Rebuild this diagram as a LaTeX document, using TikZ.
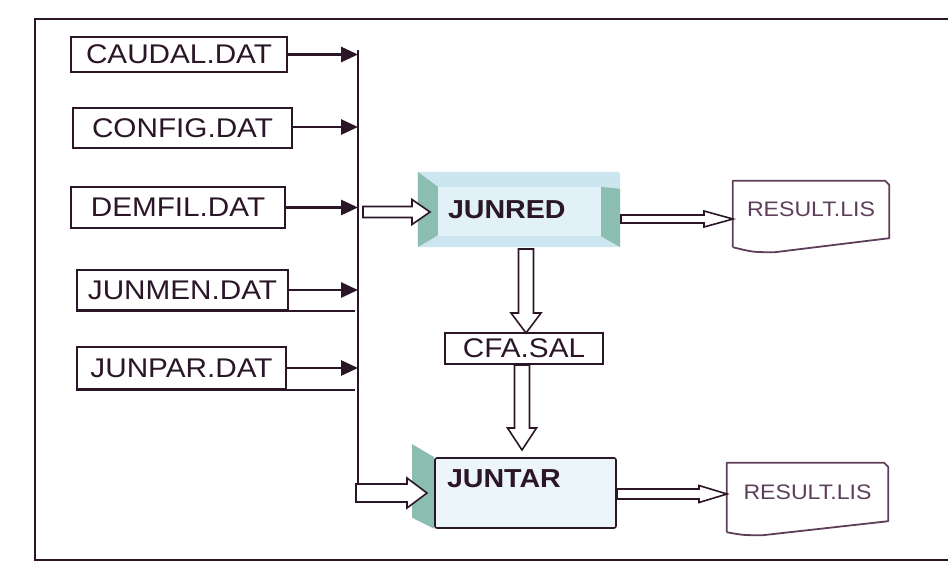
\documentclass[tikz,border=0pt]{standalone}
\usepackage{fontspec}
\setmainfont{Liberation Sans}[FakeStretch=1.1]
\usetikzlibrary{arrows.meta,calc}
\pgfdeclarelayer{bottom}
\pgfdeclarelayer{background}
\pgfsetlayers{bottom,background,main}
\definecolor{ink}{HTML}{2B1628}
\definecolor{inkl}{HTML}{5E3F5A}
\definecolor{faceblue}{HTML}{E1F1F7}
\definecolor{bevelblue}{HTML}{CBE6EE}
\definecolor{bevteal}{HTML}{8CBDB1}
\definecolor{boxblue}{HTML}{EBF5FA}
\newcommand{\hollowright}[5]{\draw[hollow] ($(#1)+(0,#3)$) -- ($(#2)+(-#5,#3)$) -- ($(#2)+(-#5,#4)$) -- (#2) -- ($(#2)+(-#5,-#4)$) -- ($(#2)+(-#5,-#3)$) -- ($(#1)+(0,-#3)$) -- cycle;}
\newcommand{\hollowdown}[5]{\draw[hollow] ($(#1)+(#3,0)$) -- ($(#2)+(#3,-#5)$) -- ($(#2)+(#4,-#5)$) -- (#2) -- ($(#2)+(-#4,-#5)$) -- ($(#2)+(-#3,-#5)$) -- ($(#1)+(-#3,0)$) -- cycle;}
\tikzset{
  filebox/.style={draw=ink, line width=1.8pt, fill=white, text=ink, inner sep=0pt,
    font=\fontsize{27}{27}\selectfont},
  inarrow/.style={draw=ink, line width=2.8pt, -{Triangle[length=17pt,width=15pt]}},
  hollow/.style={draw=ink, line width=1.6pt, fill=white, line join=miter},
  procfont/.style={font=\bfseries\fontsize{26}{26}\selectfont, text=ink},
  resbox/.style={inner sep=0pt, text=inkl, font=\fontsize{21}{21}\selectfont},
  resline/.style={draw=inkl, line width=1.8pt, line join=round}
}
\begin{document}
\begin{tikzpicture}[x=1pt,y=-1pt]
\useasboundingbox (0,0) rectangle (948,571);
\begin{pgfonlayer}{bottom}
\fill[white] (0,0) rectangle (948,571);
\end{pgfonlayer}
% outer frame (open on the right)
\draw[ink, line width=2pt] (948,19) -- (35,19) -- (35,560) -- (948,560);

% input files
\node[filebox, minimum width=216pt, minimum height=35pt] (caudal) at (179,54.5) {CAUDAL.DAT};
\node[filebox, minimum width=219pt, minimum height=40pt] (config) at (182.5,128) {CONFIG.DAT};
\node[filebox, minimum width=214pt, minimum height=41pt] (demfil) at (178,207.5) {DEMFIL.DAT};
\node[filebox, minimum width=211pt, minimum height=40pt] (junmen) at (182.5,290) {JUNMEN.DAT};
\node[filebox, minimum width=209pt, minimum height=42pt] (junpar) at (181.5,368) {JUNPAR.DAT};

% bus
\coordinate (busTop) at (358,50);
\coordinate (busBot) at (358,484);
\draw[ink, line width=2pt] (busTop) -- (busBot);

\draw[inarrow] (caudal.east) -- (caudal.east -| busTop);
\draw[inarrow] ($(config.east)+(0,-1)$) -- ($(config.east -| busTop)+(0,-1)$);
\draw[inarrow] (demfil.east) -- (demfil.east -| busTop);
\draw[inarrow] (junmen.east) -- (junmen.east -| busTop);
\draw[inarrow] (junpar.east) -- (junpar.east -| busTop);
\draw[ink, line width=1.8pt] (junmen.south west) -- ($(junmen.south -| busTop)+(-3,0)$);
\draw[ink, line width=1.8pt] (junpar.south west) -- ($(junpar.south -| busTop)+(-3,0)$);

% JUNRED (bevelled block)
\node[procfont, minimum width=202pt, minimum height=75pt, text width=142pt,
      inner xsep=30pt, inner ysep=0pt, align=left] (junred) at (519,209.5) {JUNRED};
\begin{pgfonlayer}{background}
  \fill[bevelblue, rounded corners=3pt] (junred.north west) rectangle (junred.south east);
  \fill[faceblue] ($(junred.north west)+(20,15)$) rectangle ($(junred.south east)+(-19,-11)$);
  \fill[bevteal] (junred.north west) -- ($(junred.north west)+(20,15)$)
     -- ($(junred.south west)+(20,-12)$) -- (junred.south west) -- cycle;
  \fill[bevteal] ($(junred.north east)+(-19,15)$) -- ($(junred.north east)+(0,17)$)
     -- (junred.south east) -- ($(junred.south east)+(-19,-11)$) -- cycle;
\end{pgfonlayer}

% CFA.SAL
\node[filebox, minimum width=158pt, minimum height=31pt] (cfa) at (524,348.5) {CFA.SAL};

% JUNTAR
\node[procfont, draw=ink, line width=1.6pt, fill=boxblue, rounded corners=2pt,
      minimum width=181pt, minimum height=70pt, text width=157pt, inner xsep=12pt,
      inner ysep=0pt, align=left, text height=18pt, text depth=30pt] (juntar) at (525.5,493) {JUNTAR};
\begin{pgfonlayer}{background}
  \fill[bevteal] ($(juntar.north west)+(-22,-13)$) -- (juntar.north west)
     -- (juntar.south west) -- ($(juntar.south west)+(-22,-11)$) -- cycle;
\end{pgfonlayer}

% result files
\node[resbox, minimum width=156pt, minimum height=57pt] (res1) at (811,209.5) {RESULT.LIS};
\draw[resline] ($(res1.south west)+(0,9)$) -- (res1.north west) -- ($(res1.north east)+(-4,0)$)
   -- ($(res1.north east)+(0,4)$) -- (res1.south east)
   -- ($(res1.south west)+(42,14)$) .. controls ($(res1.south west)+(20,14)$) .. ($(res1.south west)+(0,9)$);
\node[resbox, minimum width=161pt, minimum height=58pt] (res2) at (807.5,492) {RESULT.LIS};
\draw[resline] ($(res2.south west)+(0,11)$) -- (res2.north west) -- ($(res2.north east)+(-4,0)$)
   -- ($(res2.north east)+(0,4)$) -- (res2.south east)
   -- ($(res2.south west)+(36,14)$) .. controls ($(res2.south west)+(16,14)$) .. ($(res2.south west)+(0,11)$);

% hollow block arrows
\coordinate (busA) at (363,212);
\coordinate (junredIn) at (430,212);
\hollowright{busA}{junredIn}{5.5}{12.5}{18}
\coordinate (busB) at (356,493);
\coordinate (juntarIn) at (427,493);
\hollowright{busB}{juntarIn}{9}{15}{20}
\coordinate (redOut) at (526,249);
\coordinate (cfaIn) at (526,333);
\hollowdown{redOut}{cfaIn}{7.5}{15}{20}
\coordinate (cfaOut) at (522,365);
\coordinate (tarIn) at (522,450);
\hollowdown{cfaOut}{tarIn}{7.5}{14.5}{22}
\coordinate (redR) at (621,219);
\coordinate (res1In) at (733,219);
\hollowright{redR}{res1In}{4}{8}{29}
\coordinate (tarR) at (617,494);
\coordinate (res2In) at (727,494);
\hollowright{tarR}{res2In}{5}{8.5}{28}
\end{tikzpicture}
\end{document}
